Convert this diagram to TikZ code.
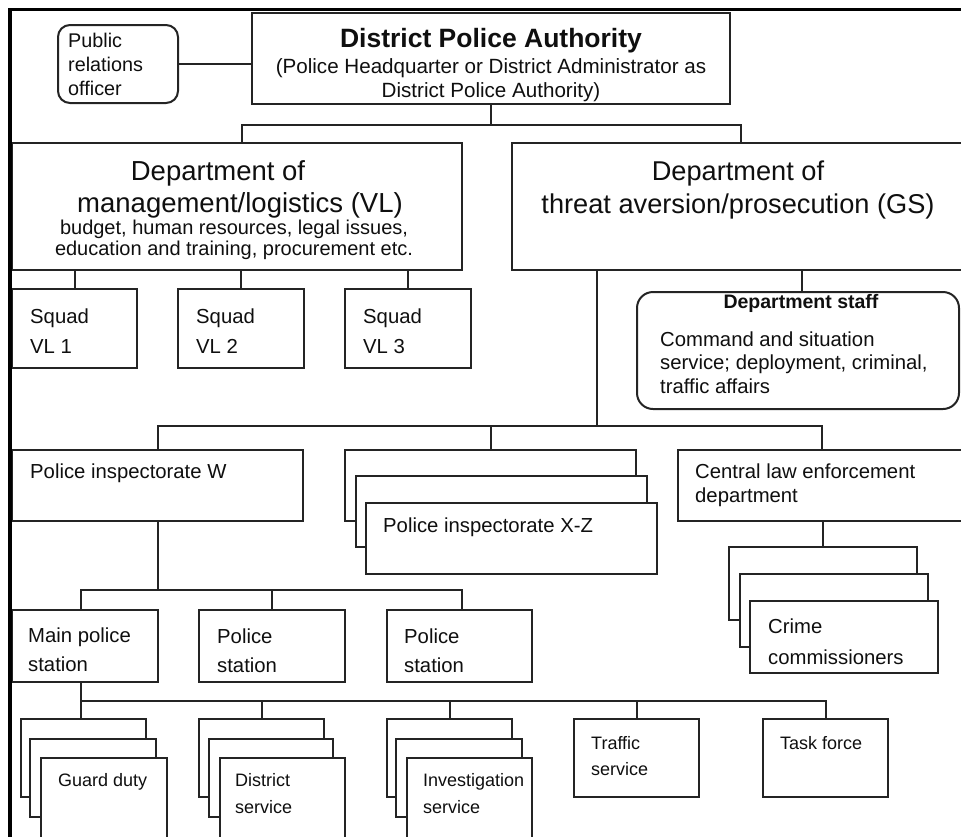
\documentclass[tikz,border=0pt]{standalone}
\usepackage{fontspec}
\setmainfont{Liberation Sans}
\definecolor{linec}{gray}{0.14}
\definecolor{txtc}{gray}{0.06}
\newcommand\fsz[1]{\fontsize{#1pt}{#1pt}\selectfont}
% box from (x1,y1) to (x2,y2), y measured downwards
\newcommand\mkbox[6][]{%
  \pgfmathsetmacro\BoxW{#5-#3}%
  \pgfmathsetmacro\BoxH{#6-#4}%
  \node[box,minimum width=\BoxW pt,minimum height=\BoxH pt,#1] (#2) at (#3,#4) {};}
\begin{document}
\begin{tikzpicture}[x=1pt,y=-1pt,
  box/.style={draw=linec,line width=2pt,fill=white,inner sep=0pt,outer sep=0pt,anchor=north west},
  conn/.style={draw=linec,line width=2pt},
  lbl/.style={inner sep=0pt,anchor=base west,text=txtc,font=\fsz{20.3}},
  clbl/.style={inner sep=0pt,anchor=base,text=txtc,font=\fsz{20.3}},
  small/.style={font=\fsz{18}},
]
\useasboundingbox (0,0) rectangle (961,836);
\clip (0,0) rectangle (961,836);

% ---------- boxes ----------
\mkbox[rounded corners=12pt]{pr}{58}{25}{178}{103}
\mkbox{dpa}{252}{13}{730}{104}
\mkbox{vl}{12}{143}{462}{270}
\mkbox{gs}{512}{143}{966}{270}
\mkbox{sq1}{12}{289}{137}{368}
\mkbox{sq2}{178}{289}{304}{368}
\mkbox{sq3}{345}{289}{471}{368}
\mkbox[rounded corners=16pt]{staff}{637}{292}{959}{409}
\mkbox{piw}{12}{450}{303}{521}
\mkbox{pixa}{345}{450}{636}{521}
\mkbox{pixb}{356}{476}{647}{547}
\mkbox{pixc}{366}{503}{657}{574}
\mkbox{cle}{678}{450}{966}{521}
\mkbox{crma}{729}{547}{917}{620}
\mkbox{crmb}{740}{574}{928}{647}
\mkbox{crmc}{750}{601}{938}{673}
\mkbox{mps}{12}{610}{158}{682}
\mkbox{ps1}{199}{610}{345}{682}
\mkbox{ps2}{387}{610}{532}{682}
\mkbox{gda}{21}{719}{146}{797}
\mkbox{gdb}{30}{739}{156}{817}
\mkbox{gdc}{41}{758}{167}{850}
\mkbox{dsa}{199}{719}{324}{797}
\mkbox{dsb}{209}{739}{333}{817}
\mkbox{dsc}{220}{758}{345}{850}
\mkbox{iva}{387}{719}{512}{797}
\mkbox{ivb}{396}{739}{522}{817}
\mkbox{ivc}{407}{758}{532}{850}
\mkbox{trs}{574}{719}{699}{797}
\mkbox{tkf}{763}{719}{888}{797}

% ---------- connectors ----------
\coordinate (busA) at (0,125);
\coordinate (busB) at (0,426);
\coordinate (busC) at (0,590);
\coordinate (busD) at (0,701);
\draw[conn] (pr.east) -- (pr.east -| dpa.west);
\draw[conn] (dpa.south) -- (dpa.south |- busA);
\draw[conn] (vl.north -| 242,0) |- (busA -| 741,0) -- (gs.north -| 741,0);
\draw[conn] (vl.south -| sq1.north) -- (sq1.north);
\draw[conn] (vl.south -| sq2.north) -- (sq2.north);
\draw[conn] (vl.south -| sq3.north) -- (sq3.north);
\draw[conn] (gs.south -| 802,0) -- (staff.north -| 802,0);
\draw[conn] (gs.south -| 597,0) -- (busB -| 597,0);
\draw[conn] (piw.north) |- (busB -| cle.north) -- (cle.north);
\draw[conn] (busB -| pixa.north) -- (pixa.north);
\draw[conn] (cle.south -| crma.north) -- (crma.north);
\draw[conn] (piw.south) -- (piw.south |- busC);
\draw[conn] (mps.north -| 81,0) |- (busC -| 462,0) -- (ps2.north -| 462,0);
\draw[conn] (busC -| ps1.north) -- (ps1.north);
\draw[conn] (mps.south -| 81,0) -- (busD -| 81,0) -- (busD -| tkf.north) -- (tkf.north);
\draw[conn] (busD -| 81,0) -- (gda.north -| 81,0);
\draw[conn] (busD -| dsa.north) -- (dsa.north);
\draw[conn] (busD -| iva.north) -- (iva.north);
\draw[conn] (busD -| trs.north) -- (trs.north);

% ---------- labels ----------
\node[lbl,font=\fsz{19.8}] (prt1) at (68,47) {Public};
\node[lbl,font=\fsz{19.8}] (prt2) at (68,71) {relations};
\node[lbl,font=\fsz{19.8}] (prt3) at (68,95) {officer};

\node[clbl,font=\fsz{26.5}\bfseries] (dpat1) at (491,47) {District Police Authority};
\node[clbl,font=\fsz{20.6}] (dpat2) at (491,73) {(Police Headquarter or District Administrator as};
\node[clbl,font=\fsz{20.6}] (dpat3) at (491,97) {District Police Authority)};

\node[clbl,font=\fsz{27.5}] (vlt1) at (218,180) {Department of};
\node[clbl,font=\fsz{27.5}] (vlt2) at (240,212) {management/logistics (VL)};
\node[clbl,font=\fsz{20}] (vlt3) at (234,234) {budget, human resources, legal issues,};
\node[clbl,font=\fsz{20}] (vlt4) at (234,255) {education and training, procurement etc.};

\node[clbl,font=\fsz{27.2}] (gst1) at (738,180) {Department of};
\node[clbl,font=\fsz{27.2}] (gst2) at (738,213) {threat aversion/prosecution (GS)};

\node[lbl] (sq1a) at (30,323) {Squad};
\node[lbl] (sq1b) at (30,353) {VL 1};
\node[lbl] (sq2a) at (196,323) {Squad};
\node[lbl] (sq2b) at (196,353) {VL 2};
\node[lbl] (sq3a) at (363,323) {Squad};
\node[lbl] (sq3b) at (363,353) {VL 3};

\node[clbl,font=\fsz{19.5}\bfseries] (stt0) at (801,308) {Department staff};
\node[lbl] (stt1) at (660,346) {Command and situation};
\node[lbl] (stt2) at (660,369) {service; deployment, criminal,};
\node[lbl] (stt3) at (660,393) {traffic affairs};

\node[lbl] (piwt) at (30,478) {Police inspectorate W};
\node[lbl] (pixt) at (383,532) {Police inspectorate X-Z};
\node[lbl] (clet1) at (695,478) {Central law enforcement};
\node[lbl] (clet2) at (695,502) {department};
\node[lbl] (crmt1) at (768,633) {Crime};
\node[lbl] (crmt2) at (768,664) {commissioners};

\node[lbl] (mpst1) at (28,642) {Main police};
\node[lbl] (mpst2) at (28,671) {station};
\node[lbl] (ps1t1) at (217,643) {Police};
\node[lbl] (ps1t2) at (217,672) {station};
\node[lbl] (ps2t1) at (404,643) {Police};
\node[lbl] (ps2t2) at (404,672) {station};

\node[lbl,small] (gdt) at (58,786) {Guard duty};
\node[lbl,small] (dst1) at (235,786) {District};
\node[lbl,small] (dst2) at (235,813) {service};
\node[lbl,small] (ivt1) at (423,786) {Investigation};
\node[lbl,small] (ivt2) at (423,813) {service};
\node[lbl,small] (trst1) at (591,749) {Traffic};
\node[lbl,small] (trst2) at (591,775) {service};
\node[lbl,small] (tkft) at (780,749) {Task force};

% ---------- outer frame ----------
\draw[line width=3.6pt,black] (10,850) -- (10,9.5) -- (975,9.5);
\end{tikzpicture}
\end{document}
